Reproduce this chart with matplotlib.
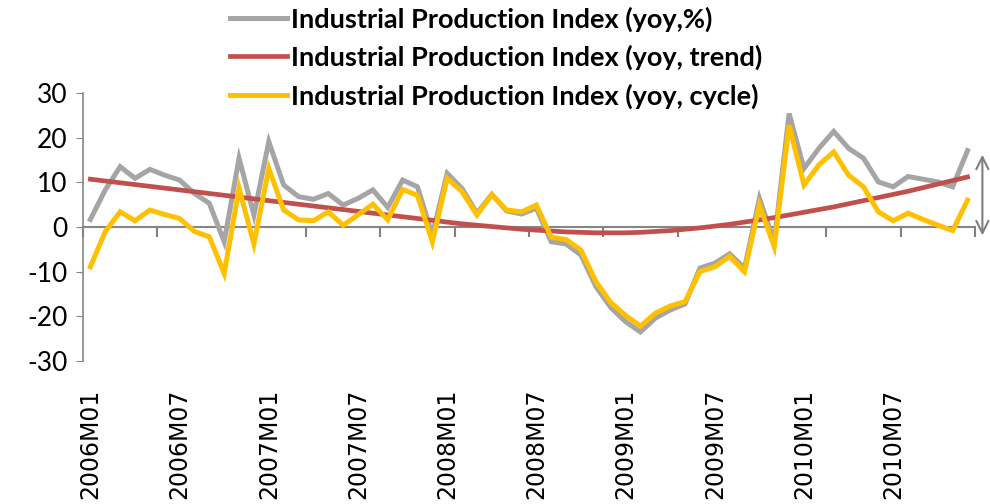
import matplotlib
matplotlib.use("Agg")
import matplotlib.pyplot as plt
from matplotlib.ticker import FixedLocator

plt.rcParams["axes.unicode_minus"] = False

# monthly categories 2006M01 .. 2010M12
months = [f"{y}M{m:02d}" for y in range(2006, 2011) for m in range(1, 13)]

ip_yoy = [1.7, 8.3, 13.5, 10.9, 12.9, 11.6, 10.5, 7.5, 5.3, -3.3,
          15.4, 2.7, 19.1, 9.4, 6.8, 6.2, 7.5, 4.9, 6.4, 8.3,
          4.4, 10.5, 9.0, -1.8, 12.0, 8.6, 3.1, 7.3, 3.6, 2.9,
          4.2, -3.3, -3.8, -6.3, -13.3, -18.0, -21.2, -23.5, -20.4, -18.6,
          -17.2, -9.2, -8.1, -6.0, -9.2, 6.4, -3.3, 25.4, 13.1, 17.6,
          21.4, 17.6, 15.4, 10.1, 9.0, 11.3, 10.7, 10.1, 9.0, 17.1]

ip_trend = [10.7, 10.3, 9.9, 9.5, 9.1, 8.7, 8.3, 7.9, 7.5, 7.1,
            6.7, 6.3, 5.9, 5.5, 5.1, 4.7, 4.3, 3.9, 3.5, 3.1,
            2.7, 2.3, 1.9, 1.5, 1.1, 0.7, 0.4, 0.1, -0.2, -0.5,
            -0.7, -0.9, -1.1, -1.2, -1.3, -1.3, -1.3, -1.2, -1.0, -0.8,
            -0.5, -0.2, 0.2, 0.6, 1.1, 1.6, 2.1, 2.7, 3.3, 3.9,
            4.5, 5.2, 5.9, 6.6, 7.3, 8.0, 8.8, 9.6, 10.4, 11.2]

ip_cycle = [-8.9, -1.0, 3.4, 1.4, 3.8, 2.8, 1.9, -1.0, -2.2, -10.4,
            8.7, -3.8, 13.1, 3.8, 1.6, 1.4, 3.4, 0.4, 2.7, 5.1,
            1.6, 8.4, 7.1, -3.3, 10.9, 7.9, 2.7, 7.2, 3.8, 3.4,
            4.9, -2.3, -2.8, -5.2, -12.2, -16.9, -19.8, -22.2, -19.3, -17.7,
            -16.7, -10.0, -8.9, -6.6, -10.0, 4.9, -4.4, 22.8, 9.4, 13.9,
            16.8, 11.6, 9.0, 3.4, 1.4, 3.1, 1.7, 0.4, -0.8, 6.0]

labels = ["Industrial Production Index (yoy,%)",
          "Industrial Production Index (yoy, trend)",
          "Industrial Production Index (yoy, cycle)"]

x = list(range(len(months)))

fig = plt.figure(figsize=(9.9, 5.04), dpi=100)
ax = fig.add_axes([0.0838, 0.2837, 0.901, 0.5318])

ax.plot(x, ip_yoy, color="#A5A5A5", lw=3.6, label=labels[0], solid_joinstyle="miter")
ax.plot(x, ip_trend, color="#C0504D", lw=3.4, label=labels[1])
ax.plot(x, ip_cycle, color="#FFC000", lw=3.6, label=labels[2], solid_joinstyle="miter")

ax.set_xlim(-0.5, len(months) - 0.5)
ax.set_ylim(-30, 30)
ax.set_yticks(range(-30, 31, 10))
ax.tick_params(axis="y", direction="out", length=5, color="#868686",
               labelsize=19, pad=6)
for t in ax.get_yticklabels():
    t.set_fontfamily("Lato")

# category axis crosses at zero: tick marks every 5 months, labels every 6 at the bottom
ax.spines["bottom"].set_position(("data", 0))
ax.spines["bottom"].set_color("#868686")
ax.spines["bottom"].set_linewidth(1.5)
ax.spines["bottom"].set_zorder(0.5)
ax.set_xticks(x[::6])
ax.set_xticklabels(months[::6], rotation=90, fontsize=17, family="DejaVu Sans")
ax.xaxis.set_minor_locator(FixedLocator([i - 0.5 for i in range(0, len(months) + 1, 5)]))
ax.tick_params(axis="x", which="major", length=0, pad=116.5)
ax.tick_params(axis="x", which="minor", direction="out", length=7, width=1.5,
               color="#808080")

for s in ["top", "right"]:
    ax.spines[s].set_visible(False)
ax.spines["left"].set_color("#868686")
ax.spines["left"].set_linewidth(1.2)

ax.annotate("", xy=(len(months), 16.8), xytext=(len(months), -2.5),
            arrowprops=dict(arrowstyle="<->", color="#7F7F7F", lw=1.5,
                            mutation_scale=22),
            annotation_clip=False)

leg = fig.legend(loc="upper left", bbox_to_anchor=(0.208, 1.036), frameon=False,
                 prop={"family": "Lato", "weight": "bold", "size": 19.5},
                 handlelength=2.1, handletextpad=0.15, labelspacing=0.49)

fig.savefig("out.png", dpi=100)
